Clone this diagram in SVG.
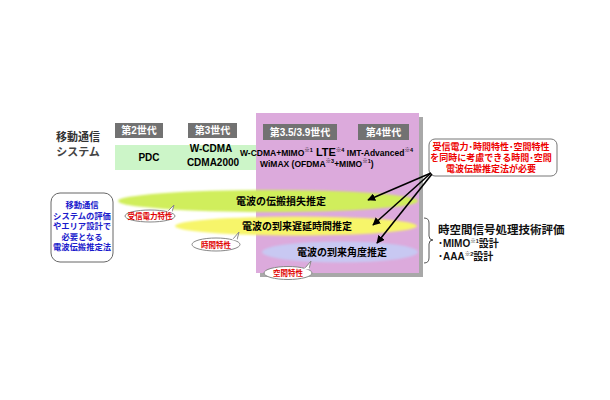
<svg xmlns="http://www.w3.org/2000/svg" width="610" height="400" viewBox="0 0 610 400">
<defs>
<style>
text{font-family:"Liberation Sans","Noto Sans CJK JP",sans-serif;}
.gen{fill:#727272;}
.gent{fill:#fff;font-size:10px;font-weight:bold;text-anchor:middle;}
.sys{fill:#000;font-size:10px;font-weight:bold;}
.ell{fill:#000;font-size:10px;font-weight:bold;text-anchor:middle;}
.bub{fill:#fff;stroke:#888;stroke-width:1;}
.bubt{fill:#e00000;font-size:7.5px;font-weight:bold;text-anchor:middle;}
.red{fill:#ee0000;font-size:9px;font-weight:bold;text-anchor:middle;}
.blue{fill:#1a1acc;font-size:8.3px;font-weight:bold;text-anchor:middle;}
.sup{font-size:5.5px;}
.arr{stroke:#000;stroke-width:1.6;fill:none;marker-end:url(#ah);}
</style>
<marker id="ah" viewBox="0 0 10 10" refX="9" refY="5" markerWidth="5" markerHeight="5" orient="auto"><path d="M0,0 L10,5 L0,10 z" fill="#000"/></marker>
<filter id="soft" x="-10%" y="-50%" width="120%" height="200%"><feGaussianBlur stdDeviation="1.2"/></filter>
</defs>
<rect width="610" height="400" fill="#fff"/>

<g id="title">
<text x="78" y="141" style="font-size:11px;font-weight:bold;fill:#333;text-anchor:middle">移動通信</text>
<text x="78" y="156" style="font-size:11px;font-weight:bold;fill:#444;text-anchor:middle">システム</text>
</g>

<g id="green-band"><rect x="115" y="145" width="142" height="25" fill="#ccf5c8"/></g>

<g id="purple-area">
<rect x="260" y="117" width="163" height="160" fill="#a8a8a8"/>
<rect x="256" y="113" width="163" height="160" fill="#dcaadc"/>
</g>

<g id="gen2"><rect class="gen" x="115" y="123" width="48" height="15"/><text class="gent" x="139" y="134">第2世代</text></g>
<g id="gen3"><rect class="gen" x="188" y="123" width="49" height="15"/><text class="gent" x="212.5" y="134">第3世代</text></g>
<g id="gen35"><rect class="gen" x="263" y="124" width="74" height="16"/><text class="gent" x="300" y="136">第3.5/3.9世代</text></g>
<g id="gen4"><rect class="gen" x="358" y="124" width="51" height="16"/><text class="gent" x="383.5" y="136">第4世代</text></g>

<g id="systems">
<text class="sys" x="149" y="161" text-anchor="middle">PDC</text>
<text class="sys" x="211" y="152" text-anchor="middle">W-CDMA</text>
<text class="sys" x="213" y="166" text-anchor="middle">CDMA2000</text>
<text class="sys" x="240" y="156" style="font-size:8.5px">W-CDMA+MIMO<tspan class="sup" dy="-4">※1</tspan><tspan dy="4" style="font-size:11px"> LTE</tspan><tspan class="sup" dy="-4">※4</tspan><tspan dy="4"> IMT-Advanced</tspan><tspan class="sup" dy="-4">※4</tspan></text>
<text class="sys" x="260" y="167" style="font-size:8.5px">WiMAX  (OFDMA<tspan class="sup" dy="-4">※3</tspan><tspan dy="4">+MIMO</tspan><tspan class="sup" dy="-4">※1</tspan><tspan dy="4">)</tspan></text>
</g>

<g id="ellipse-loss">
<ellipse cx="268" cy="201" rx="150" ry="11" fill="#d0ee5c" filter="url(#soft)"/>
<text class="ell" x="281" y="205">電波の伝搬損失推定</text>
</g>
<g id="ellipse-delay">
<ellipse cx="296" cy="226" rx="121" ry="9.5" fill="#f7f56a" filter="url(#soft)"/>
<text class="ell" x="297" y="230">電波の到来遅延時間推定</text>
</g>
<g id="ellipse-angle">
<ellipse cx="340" cy="252" rx="78" ry="10.5" fill="#c8c8f2" filter="url(#soft)"/>
<text class="ell" x="342" y="256">電波の到来角度推定</text>
</g>

<g id="bubble-power">
<path class="bub" d="M168,211 L174,205 L172,212"/>
<ellipse class="bub" cx="150" cy="216" rx="25" ry="6"/>
<path d="M167.5,211.5 L172.5,211.5" stroke="#fff" stroke-width="1.5"/>
<text class="bubt" x="150" y="219">受信電力特性</text>
</g>
<g id="bubble-time">
<path class="bub" d="M233,239 L239,232 L237,240"/>
<ellipse class="bub" cx="216" cy="244.5" rx="24" ry="6.5"/>
<path d="M232.5,239.5 L237.5,239.5" stroke="#fff" stroke-width="1.5"/>
<text class="bubt" x="216" y="247.5">時間特性</text>
</g>
<g id="bubble-space">
<path class="bub" d="M305,268 L311,261 L309,269"/>
<ellipse class="bub" cx="288" cy="273" rx="24" ry="6.5"/>
<path d="M304.5,268.5 L309.5,268.5" stroke="#fff" stroke-width="1.5"/>
<text class="bubt" x="288" y="276">空間特性</text>
</g>

<g id="left-box">
<rect x="51" y="193" width="62" height="69" rx="9" fill="#fff" stroke="#666" stroke-width="1"/>
<text class="blue" x="82" y="208">移動通信</text>
<text class="blue" x="82" y="218.5">システムの評価</text>
<text class="blue" x="82" y="229">やエリア設計で</text>
<text class="blue" x="82" y="239.5">必要となる</text>
<text class="blue" x="82" y="250">電波伝搬推定法</text>
</g>

<g id="callout">
<rect x="429" y="139" width="128" height="37" rx="6" fill="#fff" stroke="#777" stroke-width="1"/>
<text class="red" x="491" y="150">受信電力･時間特性･空間特性</text>
<text class="red" x="491" y="161">を同時に考慮できる時間･空間</text>
<text class="red" x="491" y="172">電波伝搬推定法が必要</text>
</g>

<g id="connectors">
<line class="arr" x1="431" y1="173" x2="368" y2="200"/>
<line class="arr" x1="431" y1="173" x2="373" y2="225"/>
<line class="arr" x1="432" y1="174" x2="377" y2="243"/>
<path d="M424,218 Q429,218 429,223 L429,236 Q429,240 433,240 Q429,240 429,244 L429,258 Q429,263 424,263" fill="none" stroke="#555" stroke-width="1"/>
</g>

<g id="right-text">
<text x="438" y="234" style="font-size:11.5px;font-weight:bold;fill:#111">時空間信号処理技術評価</text>
<text x="438" y="247" style="font-size:10px;font-weight:bold;fill:#111">･MIMO<tspan class="sup" dy="-4">※1</tspan><tspan dy="4">設計</tspan></text>
<text x="438" y="260" style="font-size:10px;font-weight:bold;fill:#111">･AAA<tspan class="sup" dy="-4">※2</tspan><tspan dy="4">設計</tspan></text>
</g>
</svg>
